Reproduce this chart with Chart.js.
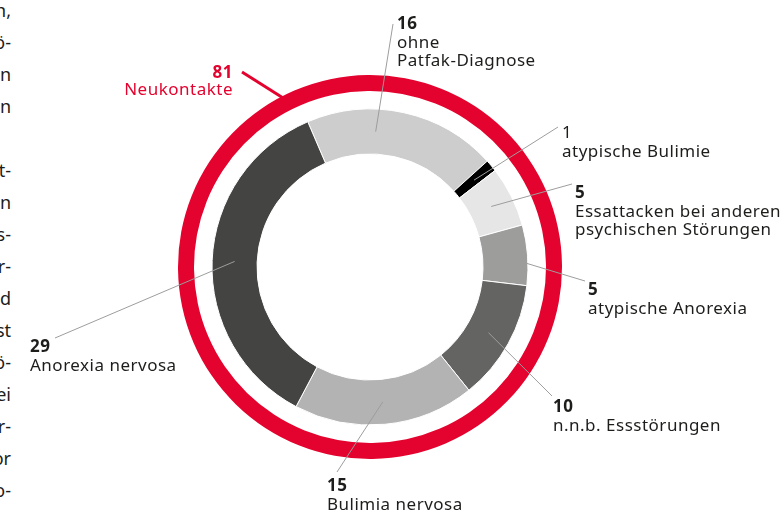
<!DOCTYPE html>
<html>
<head>
<meta charset="utf-8">
<script src="https://cdn.jsdelivr.net/npm/chart.js@4.4.0/dist/chart.umd.min.js"></script>
<style>
  html, body { margin: 0; padding: 0; background: #fff; }
  #wrap { position: relative; width: 782px; height: 514px; overflow: hidden; }
  #frag {
    position: absolute; left: -200px; top: -6px; width: 211px;
    text-align: right; font: 18px "Noto Sans", sans-serif; line-height: 32px; color: #1d1d1b;
  }
  canvas { position: absolute; left: 0; top: 0; }
</style>
</head>
<body>
<div id="wrap">
  <div id="frag"></div>
  <canvas id="ring" width="782" height="514"></canvas>
</div>
<script>
// Daten
const categories = ['ohne\nPatfak-Diagnose', 'atypische Bulimie', 'Essattacken bei anderen\npsychischen Störungen',
  'atypische Anorexia', 'n.n.b. Essstörungen', 'Bulimia nervosa', 'Anorexia nervosa'];
const counts = [16, 1, 5, 5, 10, 15, 29];
const totalLabel = 'Neukontakte';
const totalCount = [81];

// angeschnittene Textspalte links
const fragments = ['n,', 'ö-', 'n', 'n', '', 't-', 'n', 's-', 'r-', 'd', 'st', 'ö-', 'ei', 'r-', 'or', 'o-'];

const colors = ['#cdcdcd', '#000000', '#e6e6e6', '#9d9d9c', '#646463', '#b3b3b3', '#444443'];
const red = '#e4032e';
const font = '"Noto Sans", sans-serif';

// Beschriftungen: Textposition (Grundlinie), Endpunkt der Linie, Ansatz im Segment
const callouts = [
  { tx: 397, ty: 29, ex: 393, ey: 24, at: 0.36, bold: true },
  { tx: 562, ty: 138, ex: 558, ey: 127, at: 0.5, bold: false },
  { tx: 575, ty: 198, ex: 572, ey: 184, at: 0.5, bold: true },
  { tx: 588, ty: 295, ex: 585, ey: 281, at: 0.5, bold: true },
  { tx: 553, ty: 412, ex: 552, ey: 396, at: 0.5, bold: true },
  { tx: 327, ty: 491, ex: 337, ey: 472, at: 0.5, bold: true },
  { tx: 30, ty: 352, ex: 55, ey: 338, at: 0.5, bold: true }
];

document.getElementById('frag').innerHTML = fragments.map(s => s || '&nbsp;').join('<br>');

const calloutPlugin = {
  id: 'callouts',
  afterDraw(chart) {
    const ctx = chart.ctx;
    const meta = chart.getDatasetMeta(2);
    ctx.save();
    // graue Linien
    ctx.strokeStyle = '#9d9d9d';
    ctx.lineWidth = 1;
    meta.data.forEach((arc, i) => {
      const p = arc.getProps(['x', 'y', 'startAngle', 'endAngle', 'innerRadius', 'outerRadius'], true);
      const c = callouts[i];
      const a = p.startAngle + (p.endAngle - p.startAngle) * c.at;
      const r = (p.innerRadius + p.outerRadius) / 2;
      ctx.beginPath();
      ctx.moveTo(p.x + Math.cos(a) * r, p.y + Math.sin(a) * r);
      ctx.lineTo(c.ex, c.ey);
      ctx.stroke();
    });
    // Texte
    ctx.fillStyle = '#1d1d1b';
    ctx.textAlign = 'left';
    ctx.textBaseline = 'alphabetic';
    ctx.letterSpacing = '0.5px';
    categories.forEach((cat, i) => {
      const c = callouts[i];
      ctx.font = (c.bold ? 'bold ' : '') + '17px ' + font;
      ctx.fillText(String(counts[i]), c.tx, c.ty);
      ctx.font = '17px ' + font;
      cat.split('\n').forEach((line, j) => ctx.fillText(line, c.tx, c.ty + 18.5 * (j + 1)));
    });
    // rote Gesamtzahl
    const outer = chart.getDatasetMeta(0).data[0];
    const q = outer.getProps(['x', 'y', 'outerRadius'], true);
    const ang = (-27.2 - 90) * Math.PI / 180;
    ctx.strokeStyle = red;
    ctx.lineWidth = 3;
    ctx.beginPath();
    ctx.moveTo(242, 72);
    ctx.lineTo(q.x + Math.cos(ang) * (q.outerRadius - 2), q.y + Math.sin(ang) * (q.outerRadius - 2));
    ctx.stroke();
    ctx.fillStyle = red;
    ctx.textAlign = 'right';
    ctx.font = 'bold 17px ' + font;
    ctx.fillText(String(totalCount[0]), 233, 78);
    ctx.font = '17px ' + font;
    ctx.fillText(totalLabel, 233, 95);
    ctx.restore();
  }
};

new Chart(document.getElementById('ring'), {
  type: 'doughnut',
  data: {
    labels: categories,
    datasets: [
      { data: totalCount, backgroundColor: [red], borderWidth: 0, hoverBorderWidth: 0, weight: 16 },
      { data: [1], backgroundColor: ['rgba(0,0,0,0)'], borderWidth: 0, weight: 18 },
      { data: counts, backgroundColor: colors, borderColor: '#ffffff', borderWidth: 1, weight: 45 }
    ]
  },
  options: {
    responsive: false,
    animation: false,
    events: [],
    rotation: -23.2,
    cutout: 113,
    layout: { padding: { left: 178, top: 75, right: 220, bottom: 55 } },
    plugins: { legend: { display: false }, tooltip: { enabled: false } }
  },
  plugins: [calloutPlugin]
});
</script>
</body>
</html>
